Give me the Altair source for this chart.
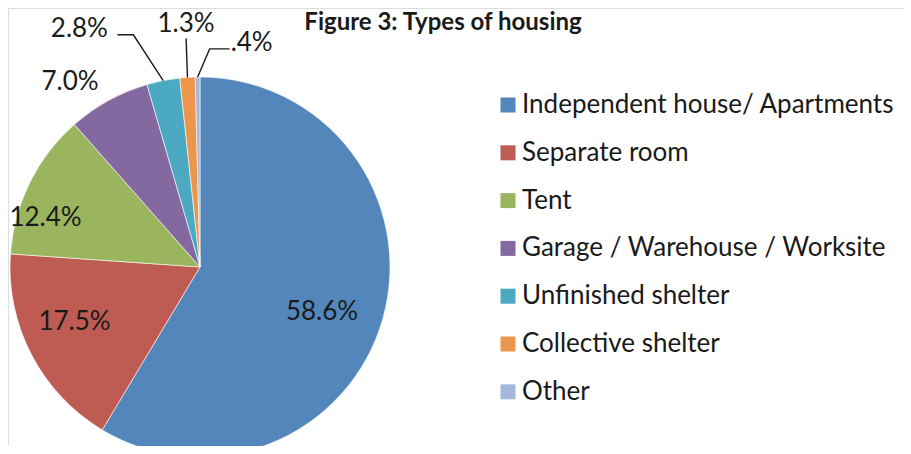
import math
import altair as alt
import pandas as pd

# ---- data ----
categories = [
    "Independent house/ Apartments",
    "Separate room",
    "Tent",
    "Garage / Warehouse / Worksite",
    "Unfinished shelter",
    "Collective shelter",
    "Other",
]
values = [58.6, 17.5, 12.4, 7.0, 2.8, 1.3, 0.4]
label_text = ["58.6%", "17.5%", "12.4%", "7.0%", "2.8%", "1.3%", ".4%"]
colors = ["#5386BA", "#BE5B52", "#9BB55E", "#8469A0", "#4BA9C2", "#EC964B", "#A3B8DB"]

# ---- layout (pixels inside the plot area) ----
CX, CY, R = 192, 259, 190
# label placement: (radius, angle nudge in degrees from slice middle)
label_polar = [(130, 4.7), (137, 3.9), (162, -8.7), (226, -6.3), (267, -15.7), (243, 0.5), (230, 13.7)]
# leader lines: index -> (end offset from label centre, elbow offset from end)
leaders = {4: ((38, 6), (16, 0)), 5: ((0, 14), (0, 0)), 6: ((-22, 6), (-20, 0))}

total = sum(values)
rows, lab_rows, line_rows = [], [], []
cum = 0.0
for i, (c, v) in enumerate(zip(categories, values)):
    mid = (cum + v / 2) / total * 360.0
    cum += v
    rows.append({"cat": c, "value": v, "idx": i})
    r, nud = label_polar[i]
    a = math.radians(mid + nud)
    lx, ly = CX + r * math.sin(a), CY - r * math.cos(a)
    lab_rows.append({"txt": label_text[i], "x": lx, "y": ly})
    if i in leaders:
        (ex, ey), (bx, by) = leaders[i]
        am = math.radians(mid)
        rim = (CX + R * math.sin(am), CY - R * math.cos(am))
        end = (lx + ex, ly + ey)
        elbow = (end[0] + bx, end[1] + by)
        for k, p in enumerate([rim, elbow, end]):
            line_rows.append({"g": i, "k": k, "x": p[0], "y": p[1]})

df = pd.DataFrame(rows)
lab = pd.DataFrame(lab_rows)
lines = pd.DataFrame(line_rows)

FONT = "Lato"

pie = (
    alt.Chart(df)
    .mark_arc(outerRadius=R, stroke="white", strokeWidth=0.6)
    .encode(
        theta=alt.Theta("value:Q", stack=True),
        order=alt.Order("idx:Q"),
        color=alt.Color(
            "cat:N",
            scale=alt.Scale(domain=categories, range=colors),
            sort=categories,
            legend=alt.Legend(
                title=None,
                orient="none",
                legendX=487,
                legendY=84,
                symbolType="square",
                symbolSize=225,
                symbolStrokeWidth=0,
                labelFont=FONT,
                labelFontSize=26,
                labelColor="#1a1a1a",
                labelOffset=1,
                rowPadding=21.8,
                padding=0,
                labelLimit=600,
            ),
        ),
        x=alt.value(CX),
        y=alt.value(CY),
    )
)

leader = (
    alt.Chart(lines)
    .mark_line(color="#1a1a1a", strokeWidth=1.4)
    .encode(
        x=alt.X("x:Q", scale=None),
        y=alt.Y("y:Q", scale=None),
        detail="g:N",
        order="k:Q",
    )
)

labels = (
    alt.Chart(lab)
    .mark_text(font=FONT, fontSize=26, color="#1a1a1a", align="center", baseline="middle")
    .encode(x=alt.X("x:Q", scale=None), y=alt.Y("y:Q", scale=None), text="txt:N")
)

title = (
    alt.Chart(pd.DataFrame({"t": ["Figure 3: Types of housing"]}))
    .mark_text(font=FONT, fontSize=24, fontWeight="bold", color="#1a1a1a", align="center", baseline="middle")
    .encode(x=alt.value(435), y=alt.value(15), text="t:N")
)

chart = (
    alt.layer(pie, leader, labels, title)
    .properties(width=895, height=438, padding=0, autosize=alt.AutoSizeParams(type="none"))
    .configure_view(stroke=None)
    .configure(background="white")
)

chart.save("out.html", embed_options={"renderer": "svg", "actions": False})
